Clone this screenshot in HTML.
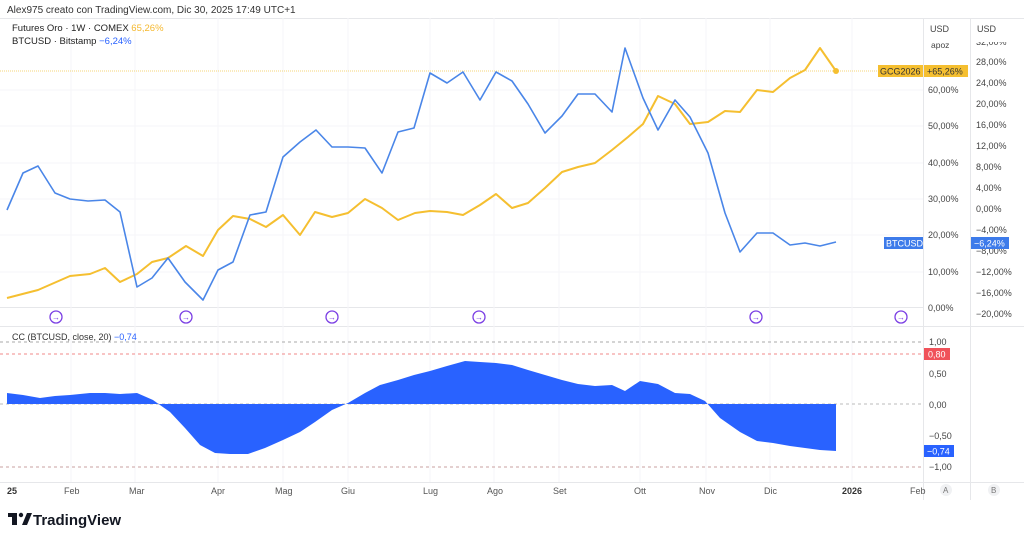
<!DOCTYPE html>
<html><head><meta charset="utf-8"><style>
html,body{margin:0;padding:0;background:#fff;width:1024px;height:539px;overflow:hidden}
svg{display:block;font-family:"Liberation Sans",sans-serif}
</style></head><body>
<svg width="1024" height="539" viewBox="0 0 1024 539">
<rect width="1024" height="539" fill="#fff"/>
<g stroke="#e6e7ea" stroke-width="1">
<line x1="0" y1="18.5" x2="1024" y2="18.5"/>
<line x1="923.5" y1="18" x2="923.5" y2="500"/>
<line x1="970.5" y1="18" x2="970.5" y2="500"/>
<line x1="0" y1="326.5" x2="1024" y2="326.5"/>
<line x1="0" y1="482.5" x2="1024" y2="482.5"/>
<line x1="0" y1="307.5" x2="923" y2="307.5"/>
</g>
<g stroke="#f5f6f8" stroke-width="1">
<line x1="0" y1="90" x2="923" y2="90"/><line x1="0" y1="126" x2="923" y2="126"/>
<line x1="0" y1="163" x2="923" y2="163"/><line x1="0" y1="199" x2="923" y2="199"/>
<line x1="0" y1="235" x2="923" y2="235"/><line x1="0" y1="272" x2="923" y2="272"/>
<line x1="71" y1="18" x2="71" y2="482"/><line x1="135" y1="18" x2="135" y2="482"/>
<line x1="218" y1="18" x2="218" y2="482"/><line x1="283" y1="18" x2="283" y2="482"/>
<line x1="348" y1="18" x2="348" y2="482"/><line x1="430" y1="18" x2="430" y2="482"/>
<line x1="494" y1="18" x2="494" y2="482"/><line x1="559" y1="18" x2="559" y2="482"/>
<line x1="640" y1="18" x2="640" y2="482"/><line x1="706" y1="18" x2="706" y2="482"/>
<line x1="770" y1="18" x2="770" y2="482"/><line x1="852" y1="18" x2="852" y2="482"/>
</g>
<line x1="0" y1="71" x2="923" y2="71" stroke="#f2c94c" stroke-width="0.7" stroke-dasharray="1,1"/>
<text x="7" y="13" font-size="10" fill="#333">Alex975 creato con TradingView.com, Dic 30, 2025 17:49 UTC+1</text>
<text x="12" y="31" font-size="9.5" fill="#222">Futures Oro · 1W · COMEX <tspan fill="#f5b82e">65,26%</tspan></text>
<text x="12" y="44" font-size="9.5" fill="#222">BTCUSD · Bitstamp <tspan fill="#2962ff">−6,24%</tspan></text>
<polyline fill="none" stroke="#f5bf30" stroke-width="2" stroke-linejoin="round" points="7,298 38,290 70,276 90,274 105,268 120,282 137,274 152,262 168,258 186,246 203,256 218,230 233,216 250,219 266,227 283,215 300,235 315,212 332,217 348,213 365,199 382,208 398,220 415,213 430,211 447,212 463,215 480,205 496,194 512,208 528,203 545,188 562,172 578,167 595,163 612,150 628,137 643,124 658,96 675,104 690,124 708,122 725,111 740,112 757,90 773,92 790,78 805,70 820,48 836,71"/>
<circle cx="836" cy="71" r="3" fill="#f5bf30"/>
<polyline fill="none" stroke="#4a86e8" stroke-width="1.6" stroke-linejoin="round" points="7,210 23,173 38,166 55,193 70,199 88,201 105,200 120,212 137,287 152,278 168,258 185,282 203,300 218,270 233,262 250,215 266,212 283,157 300,142 316,130 332,147 348,147 365,148 382,173 398,132 414,128 430,73 447,83 463,72 480,100 496,72 512,81 528,104 545,133 562,116 578,94 595,94 612,112 625,48 643,98 658,130 675,100 690,117 708,153 725,213 740,252 757,233 773,233 790,245 805,243 820,246 836,242"/>
<g fill="none" stroke="#7b3fe4" stroke-width="1.3">
<circle cx="56" cy="317" r="6"/><circle cx="186" cy="317" r="6"/><circle cx="332" cy="317" r="6"/><circle cx="479" cy="317" r="6"/><circle cx="756" cy="317" r="6"/><circle cx="901" cy="317" r="6"/>
</g>
<g font-size="8" fill="#7b3fe4" text-anchor="middle">
<text x="56" y="320">→</text><text x="186" y="320">→</text><text x="332" y="320">→</text><text x="479" y="320">→</text><text x="756" y="320">→</text><text x="901" y="320">→</text>
</g>
<rect x="878" y="65" width="45" height="12" fill="#f5bf30"/>
<text x="880" y="74.5" font-size="9" fill="#333">GCG2026</text>
<rect x="924" y="65" width="44" height="12" fill="#f5bf30"/>
<text x="927" y="74.5" font-size="9" fill="#333">+65,26%</text>
<rect x="884" y="237" width="39" height="12" fill="#3d7bea"/>
<text x="886" y="246.5" font-size="9" fill="#fff">BTCUSD</text>
<g font-size="9" fill="#444">
<text x="930" y="32">USD</text><text x="931" y="48" font-size="8.5">apoz</text>
<text x="928" y="93">60,00%</text><text x="928" y="129">50,00%</text><text x="928" y="166">40,00%</text><text x="928" y="202">30,00%</text><text x="928" y="238">20,00%</text><text x="928" y="275">10,00%</text><text x="928" y="311">0,00%</text>
<text x="977" y="32">USD</text>
<text x="976" y="45">32,00%</text>
<text x="976" y="65">28,00%</text><text x="976" y="86">24,00%</text><text x="976" y="107">20,00%</text><text x="976" y="128">16,00%</text><text x="976" y="149">12,00%</text><text x="976" y="170">8,00%</text><text x="976" y="191">4,00%</text><text x="976" y="212">0,00%</text><text x="976" y="233">−4,00%</text><text x="976" y="254">−8,00%</text><text x="976" y="275">−12,00%</text><text x="976" y="296">−16,00%</text><text x="976" y="317">−20,00%</text>
</g>
<rect x="971" y="34" width="53" height="8" fill="#fff"/>
<rect x="971" y="237" width="38" height="12" fill="#3d7bea"/>
<text x="974" y="246.5" font-size="9" fill="#fff">−6,24%</text>
<text x="12" y="340" font-size="9" fill="#333">CC (BTCUSD, close, 20) <tspan fill="#2962ff">−0,74</tspan></text>
<g stroke-dasharray="3,3" stroke-width="1">
<line x1="0" y1="342" x2="923" y2="342" stroke="#aaa"/>
<line x1="0" y1="354" x2="923" y2="354" stroke="#f08a8a"/>
<line x1="0" y1="404" x2="923" y2="404" stroke="#bbb"/>
<line x1="0" y1="467" x2="923" y2="467" stroke="#c9a0a0"/>
</g>
<polygon fill="#2962ff" points="7,404 7,393 23,395 40,398 55,396 70,395 90,393 105,393 120,394 137,393 153,400 160,405 170,412 185,428 200,445 215,453 230,454 248,454 265,448 283,440 300,432 315,422 332,410 348,403 365,393 380,385 398,380 414,375 430,371 447,366 465,361 480,362 496,363 512,365 528,370 545,375 562,380 578,384 595,386 612,385 625,391 640,381 658,384 675,393 690,394 705,401 720,418 740,432 757,441 773,443 790,446 805,448 820,450 836,451 836,404"/>
<g font-size="9" fill="#444">
<text x="929" y="345">1,00</text><text x="929" y="377">0,50</text><text x="929" y="408">0,00</text><text x="929" y="439">−0,50</text><text x="929" y="470">−1,00</text>
</g>
<rect x="924" y="348" width="26" height="12" fill="#f0525a"/>
<text x="928" y="357.5" font-size="9" fill="#fff">0,80</text>
<rect x="924" y="445" width="30" height="12" fill="#2962ff"/>
<text x="927" y="454.5" font-size="9" fill="#fff">−0,74</text>
<g font-size="9" fill="#555">
<text x="7" y="494" font-weight="bold" fill="#333">25</text>
<text x="64" y="494">Feb</text><text x="129" y="494">Mar</text><text x="211" y="494">Apr</text><text x="275" y="494">Mag</text><text x="341" y="494">Giu</text><text x="423" y="494">Lug</text><text x="487" y="494">Ago</text><text x="553" y="494">Set</text><text x="634" y="494">Ott</text><text x="699" y="494">Nov</text><text x="764" y="494">Dic</text><text x="842" y="494" font-weight="bold" fill="#333">2026</text><text x="910" y="494">Feb</text>
</g>
<circle cx="946" cy="490" r="6" fill="#f0f1f3"/><text x="943" y="493" font-size="8" fill="#777">A</text>
<circle cx="994" cy="490" r="6" fill="#f0f1f3"/><text x="991" y="493" font-size="8" fill="#777">B</text>
<g fill="#131722">
<rect x="8" y="513" width="9" height="4"/><rect x="12" y="513" width="5" height="12"/>
<circle cx="21" cy="515" r="2.2"/><polygon points="22,525 27,513 32,513 27,525"/>
</g>
<text x="33" y="525" font-size="15" font-weight="bold" fill="#131722">TradingView</text>
</svg>
</body></html>
